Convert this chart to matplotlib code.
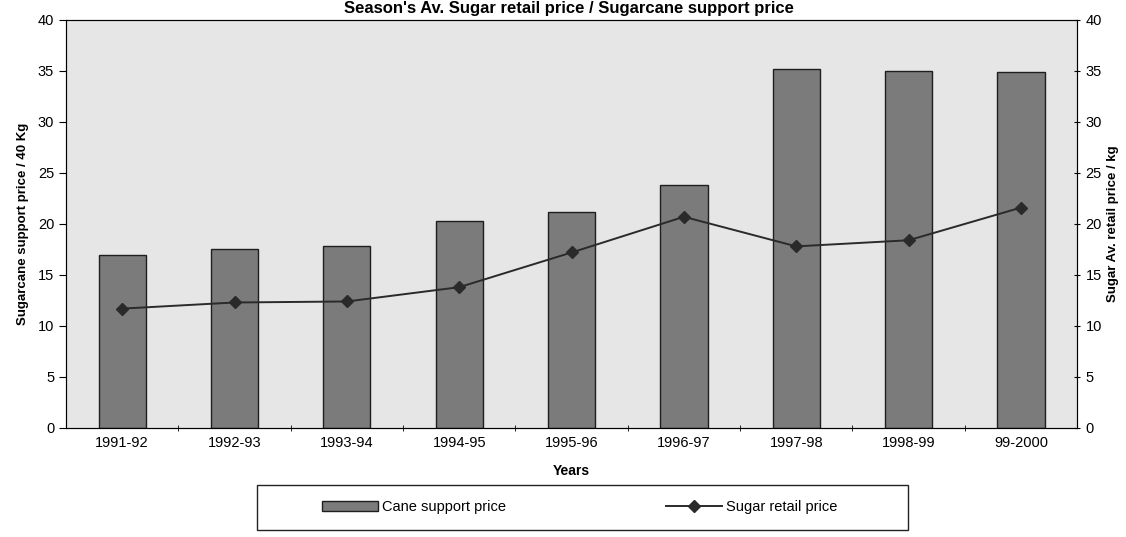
import matplotlib
matplotlib.use('Agg')
import matplotlib.pyplot as plt
from matplotlib.ticker import FixedLocator
from matplotlib.patches import Rectangle
import numpy as np

plt.rcParams['font.family'] = ['Liberation Sans', 'DejaVu Sans']

years = ['1991-92', '1992-93', '1993-94', '1994-95', '1995-96',
         '1996-97', '1997-98', '1998-99', '99-2000']
cane_price = [17.0, 17.5, 17.8, 20.3, 21.2, 23.8, 35.2, 35.0, 34.9]
sugar_price = [11.7, 12.3, 12.4, 13.8, 17.2, 20.7, 17.8, 18.4, 21.6]
y_ticks = [0, 5, 10, 15, 20, 25, 30, 35, 40]

fig = plt.figure(figsize=(11.26, 5.37), dpi=100)
ax = fig.add_axes([0.0586, 0.203, 0.898, 0.76])
ax.set_facecolor('#e6e6e6')

x = np.arange(len(years))
bars = ax.bar(x, cane_price, width=0.42, color='#7b7b7b', edgecolor='#1e1e1e',
              linewidth=1.0, label='Cane support price')
ax.set_xlim(-0.5, len(years) - 0.5)
ax.set_ylim(0, 40)
ax.set_yticks(y_ticks)
ax.set_xticks(x)
ax.set_xticklabels(years, fontsize=10.5)
ax.tick_params(axis='x', length=0, pad=6)
ax.xaxis.set_minor_locator(FixedLocator(np.arange(0.5, len(years) - 0.5, 1)))
ax.tick_params(axis='x', which='minor', length=4, direction='inout')
ax.tick_params(axis='y', labelsize=10.5, length=5, direction='out')
for s in ['top', 'left', 'bottom', 'right']:
    ax.spines[s].set_color('#333333')

ax2 = ax.twinx()
line, = ax2.plot(x, sugar_price, color='#2a2a2a', linewidth=1.4, marker='D',
                 markersize=6.5, label='Sugar retail price')
ax2.set_ylim(0, 40)
ax2.set_yticks(y_ticks)
ax2.tick_params(axis='y', labelsize=10.5, length=5, direction='inout')

ax.set_xlabel('Years', fontsize=10, fontweight='bold', labelpad=10)
ax.set_ylabel('Sugarcane support price / 40 Kg', fontsize=9.5, fontweight='bold', labelpad=6)
ax2.set_ylabel('Sugar Av. retail price / kg', fontsize=9.5, fontweight='bold', labelpad=4)

fig.text(0.505, 0.984, "Season's Av. Sugar retail price / Sugarcane support price",
         ha='center', va='center', fontsize=12, fontweight='bold')

# legend frame drawn separately so the entries can sit inside it like the original
fig.patches.append(Rectangle((0.228, 0.013), 0.578, 0.084, transform=fig.transFigure,
                             fill=False, edgecolor='#222222', linewidth=1.0))
fig.legend([bars, line], ['Cane support price', 'Sugar retail price'],
           loc='center', bbox_to_anchor=(0.515, 0.055), ncol=2, fontsize=10.5,
           frameon=False, handlelength=3.8, handletextpad=0.3, columnspacing=11)

fig.savefig('out.png', dpi=100, facecolor='white')
